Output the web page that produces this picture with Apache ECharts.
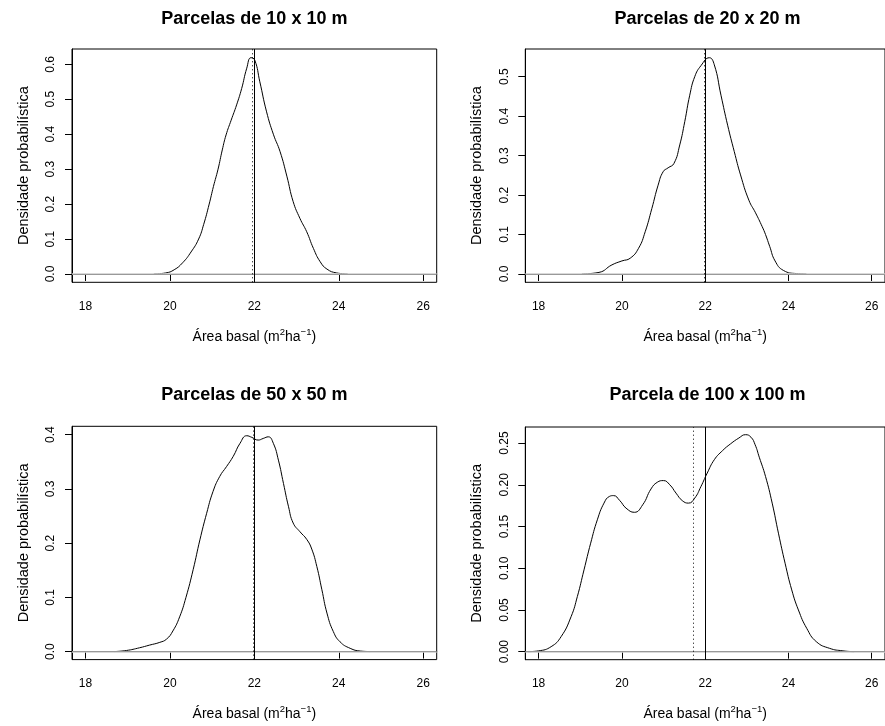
<!DOCTYPE html>
<html>
<head>
<meta charset="utf-8">
<script src="https://cdn.jsdelivr.net/npm/echarts@6/dist/echarts.min.js"></script>
<style>
  html, body { margin: 0; padding: 0; background: #fff; }
  #chart { width: 885px; height: 726px; }
</style>
</head>
<body>
<div id="chart"></div>
<script>
// ---------------- DATA ----------------
const titles = ['Parcelas de 10 x 10 m', 'Parcelas de 20 x 20 m', 'Parcelas de 50 x 50 m', 'Parcela de 100 x 100 m'];
const xAxisName = 'Área basal (m{sup|2}ha{sup|−1})';
const yAxisName = 'Densidade probabilística';
const xTicks = [18, 20, 22, 24, 26];
const refValue = 22;               // solid vertical line
const means = [21.95, 21.97, 21.98, 21.715]; // dotted vertical lines

const p1X = [19.62, 19.9, 20.1, 20.3, 20.5, 20.68, 20.8, 20.93, 21.03, 21.14, 21.24, 21.33, 21.45, 21.58, 21.70, 21.82, 21.92, 22.01, 22.13, 22.29, 22.45, 22.61, 22.77, 22.92, 23.08, 23.24, 23.40, 23.56, 23.72, 23.95, 24.21];
const p1Y = [0, 0.003, 0.012, 0.032, 0.063, 0.1, 0.142, 0.2, 0.25, 0.3, 0.355, 0.398, 0.44, 0.484, 0.531, 0.589, 0.619, 0.612, 0.55, 0.464, 0.40, 0.35, 0.28, 0.207, 0.159, 0.121, 0.073, 0.035, 0.014, 0.003, 0];
const p1YTicks = [0, 0.1, 0.2, 0.3, 0.4, 0.5, 0.6];

const p2X = [19.04, 19.45, 19.76, 20.0, 20.2, 20.4, 20.56, 20.72, 20.87, 20.99, 21.11, 21.25, 21.39, 21.51, 21.63, 21.75, 21.90, 22.10, 22.22, 22.38, 22.54, 22.70, 22.85, 23.05, 23.21, 23.37, 23.45, 23.55, 23.68, 23.88, 24.2, 24.43];
const p2Y = [0, 0.004, 0.023, 0.033, 0.040, 0.065, 0.107, 0.166, 0.225, 0.259, 0.269, 0.280, 0.327, 0.386, 0.453, 0.50, 0.528, 0.548, 0.530, 0.453, 0.377, 0.31, 0.251, 0.187, 0.155, 0.12, 0.1, 0.07, 0.033, 0.009, 0.001, 0];
const p2YTicks = [0, 0.1, 0.2, 0.3, 0.4, 0.5];

const p3X = [18.68, 18.97, 19.28, 19.52, 19.76, 19.92, 20.07, 20.23, 20.38, 20.55, 20.71, 20.87, 21.02, 21.18, 21.34, 21.50, 21.66, 21.82, 21.94, 22.09, 22.21, 22.33, 22.45, 22.57, 22.69, 22.81, 22.92, 23.08, 23.24, 23.36, 23.48, 23.60, 23.72, 23.87, 24.03, 24.27, 24.51, 24.75];
const p3Y = [0, 0.002, 0.007, 0.012, 0.017, 0.023, 0.038, 0.064, 0.1, 0.151, 0.206, 0.255, 0.295, 0.323, 0.341, 0.36, 0.384, 0.398, 0.395, 0.390, 0.393, 0.396, 0.384, 0.353, 0.310, 0.267, 0.237, 0.221, 0.207, 0.189, 0.157, 0.114, 0.071, 0.037, 0.018, 0.006, 0.001, 0];
const p3YTicks = [0, 0.1, 0.2, 0.3, 0.4];

const p4X = [17.74, 18.0, 18.3, 18.54, 18.78, 18.93, 19.09, 19.25, 19.41, 19.57, 19.7, 19.8, 19.95, 20.1, 20.3, 20.5, 20.7, 20.85, 21.0, 21.15, 21.3, 21.45, 21.6, 21.75, 21.9, 22.05, 22.22, 22.42, 22.61, 22.81, 22.97, 23.1, 23.2, 23.3, 23.45, 23.61, 23.76, 23.92, 24.08, 24.24, 24.44, 24.67, 24.99, 25.31, 25.58];
const p4Y = [0, 0.001, 0.006, 0.018, 0.042, 0.066, 0.098, 0.130, 0.158, 0.178, 0.186, 0.187, 0.181, 0.172, 0.167, 0.176, 0.195, 0.203, 0.205, 0.200, 0.190, 0.181, 0.178, 0.184, 0.198, 0.214, 0.230, 0.241, 0.249, 0.256, 0.260, 0.257, 0.248, 0.233, 0.210, 0.178, 0.142, 0.106, 0.074, 0.050, 0.028, 0.012, 0.004, 0.001, 0];
const p4YTicks = [0, 0.05, 0.10, 0.15, 0.20, 0.25];

// ---------------- LAYOUT ----------------
const FONT = '"Liberation Sans", Arial, Helvetica, sans-serif';
const panels = [
  { xs: p1X, ys: p1Y, ticks: p1YTicks, dec: 1, grid: { left: 72, top: 49, width: 364.7, height: 233.3 }, ymin: -0.0238, ymax: 0.6439, xmin: 17.68, xmax: 26.32 },
  { xs: p2X, ys: p2Y, ticks: p2YTicks, dec: 1, grid: { left: 525.3, top: 49, width: 364.5, height: 233.3 }, ymin: -0.0211, ymax: 0.5701, xmin: 17.68, xmax: 26.32 },
  { xs: p3X, ys: p3Y, ticks: p3YTicks, dec: 1, grid: { left: 72, top: 426.3, width: 364.7, height: 233.3 }, ymin: -0.0148, ymax: 0.4154, xmin: 17.68, xmax: 26.32 },
  { xs: p4X, ys: p4Y, ticks: p4YTicks, dec: 2, grid: { left: 525.3, top: 427, width: 364.5, height: 232.7 }, ymin: -0.0096, ymax: 0.2692, xmin: 17.68, xmax: 26.32 }
];

const grids = [], xAxes = [], yAxes = [], series = [], graphics = [];
panels.forEach((p, i) => {
  grids.push(Object.assign({ show: true, borderColor: '#000', borderWidth: 1, backgroundColor: 'transparent', containLabel: false }, p.grid));
  xAxes.push({
    type: 'value', gridIndex: i, min: p.xmin, max: p.xmax,
    axisLine: { show: true, lineStyle: { color: '#000', width: 1 } },
    axisTick: { show: true, length: 7, lineStyle: { color: '#000', width: 1 }, customValues: xTicks },
    axisLabel: { show: true, margin: 18, fontSize: 12, fontFamily: FONT, color: '#000', customValues: xTicks, formatter: v => String(v) },
    splitLine: { show: false },
    name: xAxisName, nameLocation: 'middle', nameGap: 45,
    nameTextStyle: { fontSize: 14, fontFamily: FONT, color: '#000',
      rich: { sup: { fontSize: 9.5, fontFamily: FONT, color: '#000', padding: [0, 0, 9, 0] } } }
  });
  yAxes.push({
    type: 'value', gridIndex: i, min: p.ymin, max: p.ymax,
    axisLine: { show: true, lineStyle: { color: '#000', width: 1 } },
    axisTick: { show: true, length: 7, lineStyle: { color: '#000', width: 1 }, customValues: p.ticks },
    axisLabel: { show: true, rotate: 90, margin: 15, fontSize: 12, fontFamily: FONT, color: '#000', customValues: p.ticks,
      formatter: v => Number(v).toFixed(p.dec) },
    splitLine: { show: false },
    name: yAxisName, nameLocation: 'middle', nameGap: 41,
    nameTextStyle: { fontSize: 14.5, fontFamily: FONT, color: '#000' }
  });
  series.push({
    type: 'line', xAxisIndex: i, yAxisIndex: i,
    data: p.xs.map((x, k) => [x, p.ys[k]]),
    showSymbol: false, smooth: 0.5, silent: true,
    lineStyle: { color: '#000', width: 1 },
    markLine: {
      silent: true, symbol: 'none', label: { show: false }, animation: false,
      data: [
        { yAxis: 0, lineStyle: { color: '#cccccc', width: 1.5, type: 'solid' } },
        { xAxis: means[i], lineStyle: { color: '#000', width: 1, type: [1, 3] } },
        { xAxis: refValue, lineStyle: { color: '#000', width: 1, type: 'solid' } }
      ]
    }
  });
  graphics.push({
    type: 'text', x: p.grid.left + p.grid.width / 2, y: i < 2 ? 19.5 : 395.5,
    style: { text: titles[i], fontSize: 18, fontWeight: 'bold', fontFamily: FONT, fill: '#000', align: 'center', verticalAlign: 'middle' }
  });
});

const chart = echarts.init(document.getElementById('chart'), null, { renderer: 'canvas' });
chart.setOption({
  animation: false,
  backgroundColor: '#fff',
  grid: grids,
  xAxis: xAxes,
  yAxis: yAxes,
  series: series,
  graphic: graphics
});
</script>
</body>
</html>
